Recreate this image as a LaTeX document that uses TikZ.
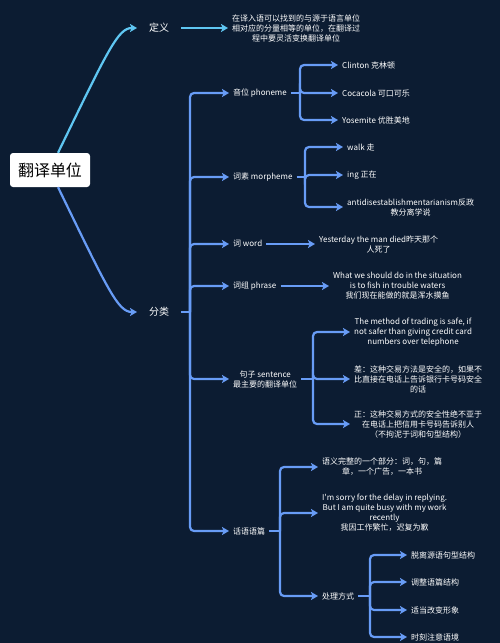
\documentclass[tikz,border=0pt]{standalone}
\usepackage{fontspec}
\newfontfamily\cjksans{Noto Sans CJK SC}
\usepackage{xcolor}
\usetikzlibrary{arrows.meta, positioning}

\definecolor{bgnavy}{RGB}{12,28,50}
\definecolor{linecyan}{RGB}{95,198,242}
\definecolor{lineblue}{RGB}{104,156,246}

\begin{document}
\begin{tikzpicture}[x=1pt, y=-1pt,
  leaf/.style={anchor=west, inner xsep=4pt, inner ysep=1pt, align=center, text=white, font=\cjksans\fontsize{8}{10}\selectfont},
  topic/.style={anchor=west, inner xsep=12pt, text=white, font=\cjksans\fontsize{10}{12}\selectfont},
  trunk/.style={draw=lineblue, line width=2.2pt},
  branch/.style={trunk, rounded corners=4pt, -{Stealth[length=7pt, width=8pt, inset=1.5pt]}},
  branchcyan/.style={branch, draw=linecyan}]

\useasboundingbox (0,0) rectangle (500,643);
\fill [bgnavy] (0,0) rectangle (500,643);

% Nodes
\node (root) [rectangle, rounded corners=3pt, fill=white, minimum width=80pt, minimum height=34pt, text centered, font=\cjksans\fontsize{16}{18}\selectfont] at (50,170) {翻译单位};

\node (def) [topic] at (137,28) {定义};
\node (deftext) [leaf] at (228,28) {在译入语可以找到的与源于语言单位\\相对应的分量相等的单位，在翻译过\\程中要灵活变换翻译单位};

\node (cls) [topic] at (137,312) {分类};

\node (phoneme) [leaf] at (229,93) {音位 phoneme};
\node (clinton) [leaf] at (338,65) {Clinton 克林顿};
\node (cocacola) [leaf] at (338,93) {Cocacola 可口可乐};
\node (yosemite) [leaf] at (338,120) {Yosemite 优胜美地};

\node (morpheme) [leaf] at (229,177) {词素 morpheme};
\node (walk) [leaf] at (343,147) {walk 走};
\node (ing) [leaf] at (343,175) {ing 正在};
\node (anti) [leaf] at (343,207) {antidisestablishmentarianism反政\\教分离学说};

\node (word) [leaf] at (229,244) {词 word};
\node (yesterday) [leaf] at (315,244) {Yesterday the man died昨天那个\\人死了};

\node (phrase) [leaf] at (229,286) {词组 phrase};
\node (fish) [leaf] at (329,286) {What we should do in the situation\\is to fish in trouble waters\\我们现在能做的就是浑水摸鱼};

\node (sentence) [leaf] at (229,379) {句子 sentence\\最主要的翻译单位};
\node (trading) [leaf] at (350,332) {The method of trading is safe, if\\not safer than giving credit card\\numbers over telephone};
\node (poor) [leaf] at (350,379) {差：这种交易方法是安全的，如果不\\比直接在电话上告诉银行卡号码安全\\的话};
\node (fine) [leaf] at (350,424) {正：这种交易方式的安全性绝不亚于\\在电话上把信用卡号码告诉别人\\（不拘泥于词和句型结构）};

\node (discourse) [leaf] at (229,531) {话语语篇};
\node (part) [leaf] at (318,467) {语义完整的一个部分：词，句，篇\\章，一个广告，一本书};
\node (sorry) [leaf] at (318,513) {I'm sorry for the delay in replying.\\But I am quite busy with my work\\recently\\我因工作繁忙，迟复为歉};
\node (method) [leaf] at (318,596) {处理方式};
\node (m1) [leaf] at (407,555) {脱离源语句型结构};
\node (m2) [leaf] at (407,582) {调整语篇结构};
\node (m3) [leaf] at (407,610) {适当改变形象};
\node (m4) [leaf] at (407,637) {时刻注意语境};

% Forks
\coordinate (clsfork) at (190,312);
\coordinate (phfork) at (300,93);
\coordinate (mofork) at (305,177);
\coordinate (sefork) at (313,379);
\coordinate (difork) at (280,531);
\coordinate (mefork) at (370,596);

% Arrows
\draw [branchcyan] (root.65) .. controls (108,50) and (118,28) .. (def.west);
\draw [branch] (root.-65) .. controls (108,290) and (118,312) .. (cls.west);
\draw [branchcyan] (def.east) -- (deftext.west);

\draw [trunk] (cls.east) -- (clsfork);
\draw [branch] (clsfork) |- (phoneme.west);
\draw [branch] (clsfork) |- (morpheme.west);
\draw [branch] (clsfork) |- (word.west);
\draw [branch] (clsfork) |- (phrase.west);
\draw [branch] (clsfork) |- (sentence.west);
\draw [branch] (clsfork) |- (discourse.west);

\draw [trunk] (phoneme.east) -- (phfork);
\draw [branch] (phfork) |- (clinton.west);
\draw [branch] (phfork) |- (cocacola.west);
\draw [branch] (phfork) |- (yosemite.west);

\draw [trunk] (morpheme.east) -- (mofork);
\draw [branch] (mofork) |- (walk.west);
\draw [branch] (mofork) |- (ing.west);
\draw [branch] (mofork) |- (anti.west);

\draw [branch] (word.east) -- (yesterday.west);
\draw [branch] (phrase.east) -- (fish.west);

\draw [trunk] (sentence.east) -- (sefork);
\draw [branch] (sefork) |- (trading.west);
\draw [branch] (sefork) |- (poor.west);
\draw [branch] (sefork) |- (fine.west);

\draw [trunk] (discourse.east) -- (difork);
\draw [branch] (difork) |- (part.west);
\draw [branch] (difork) |- (sorry.west);
\draw [branch] (difork) |- (method.west);

\draw [trunk] (method.east) -- (mefork);
\draw [branch] (mefork) |- (m1.west);
\draw [branch] (mefork) |- (m2.west);
\draw [branch] (mefork) |- (m3.west);
\draw [branch] (mefork) |- (m4.west);

\end{tikzpicture}
\end{document}
